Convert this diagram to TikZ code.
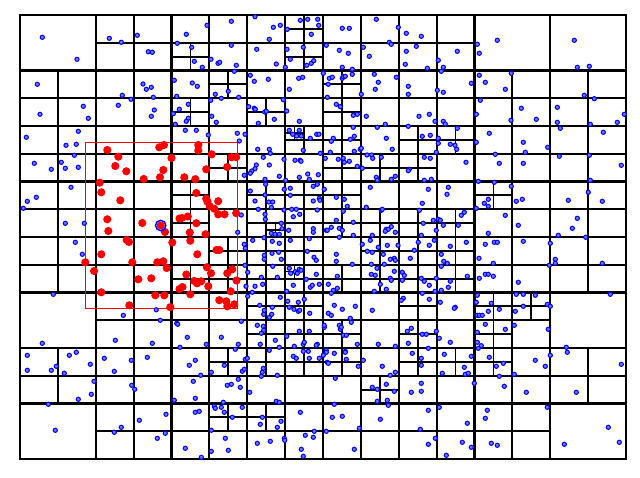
\documentclass[tikz,border=0pt]{standalone}
\usepackage{tikz}
\tikzset{
  bpt/.style={draw=blue, fill=blue!55, line width=1pt},
  rpt/.style={fill=red},
  qline/.style={black, line cap=rect}
}
\newif\ifqint
% leaves at level 3
\def\leafthree{0/0,0/5,0/7,6/0,7/0,7/5,7/7}
% internal nodes at levels >= 4
\def\intlist{4/7/0,4/4/1,4/7/1,4/5/2,4/4/3,4/6/3,4/7/4,4/5/5,4/4/6,4/6/6,4/7/6,4/4/7,4/6/7,4/7/7,4/5/8,4/6/8,4/7/8,4/4/9,4/5/9,4/6/9,4/7/9,4/6/10,4/7/10,4/6/11,4/7/11,4/5/12,4/6/12,4/7/12,4/5/14,4/6/14,4/8/2,4/8/3,4/8/4,4/10/4,4/11/4,4/8/5,4/9/5,4/10/5,4/8/6,4/8/7,4/9/7,4/10/7,4/11/7,4/9/8,4/10/8,4/11/8,4/8/9,4/9/9,4/10/9,4/11/9,4/10/10,4/8/11,4/10/11,4/8/12,4/10/12,4/11/12,4/9/13,4/12/6,4/12/10,4/12/11,4/13/10,4/12/12,5/14/8,5/13/15,5/14/18}
% points inside the query range (drawn red)
\def\redpts{107.3/150,118.3/156.7,115.3/166,126.3/171.3,159.3/147.3,164/145,198.3/145,198.3/150.5,171.5/158,211.7/154.3,231.5/157.2,236.2/157.2,227.2/167,206.2/169.3,163.3/170,160/177.3,143.7/179,184.3/177.3,195.3/179.2,99.7/182.7,101.3/192.3,120.3/200.3,196.3/193,206.2/198.7,207.5/201.8,218.2/201.2,209.8/206.4,214.3/208.7,218.2/214.3,224.5/214.3,236.2/213.2,107.3/219.3,142.3/223,160.7/225.5,165/232,179.5/218.5,182/218,187.8/216.5,196.3/223.2,108.3/231,189.8/232.5,205.5/234.2,126.7/240,129/242,172.3/242.5,216.5/250,219.3/250,197.3/254.3,101.3/254.3,85.3/262.3,132.3/262.3,157.3/262.3,163.3/261.3,166.7/268,206.9/267.2,211/273.3,232.3/269.3,94/271,227.3/273.3,186.3/274.5,138.3/279.3,151.3/278.3,194.3/281,197/283.3,201.2/281.3,208.3/286.3,236.5/280.5,179.5/289,182.5/287,101.3/292.3,155.3/295.3,164.3/295.3,190.3/294.3,230.7/291.3,219.3/300.2,226.3/301.3,234.3/304.3,227.3/306.3,129.3/305.3,170.3/307.2,190.3/240.7}
% points outside the query range (drawn blue)
\def\bluel{42.3/37.3,77/59.3,109.3/38.3,121.3/42.3,137.3/35.3,148.3/51.7,152.3/52.3,37.3/84.3,122.3/95.3,131/99.3,143/84,146.3/89.3,151.3/87.3,153.3/97.3,40/114.3,83.3/106.3,88.3/118.3,118.3/105.3,154.3/110,151.3/116.3,26.3/137.3,78.3/131.3,66/145.3,76.3/144.3,74.3/155.3,34.3/163.3,61.3/162.3,65.3/168.3,78.3/167.3,51.3/169.3,71/187.3,27.3/201.3,36.3/197.3,23.3/208.3,65.3/223.3,84.3/223.3,75.3/242.3,82.3/254.3,53.3/294.3,42.3/343.3,123.3/315.3,115.3/340.3,152.3/343.3,156.3/309.8,160.3/320.3,27.3/355.3,27.3/370.3,69.3/355.3,76.3/352.3,51.3/370.3,56.3/366.3,64.3/373.3,90.3/364.3,104.3/358.3,114.3/371.3,131.3/360.3,147.3/357.3,94/381.3,91.3/394.3,78.3/399.3,48.3/404.3,55.3/430.3,131.7/385.3,134.7/389.3,139.3/420.3,121.3/427.3,114.3/432.3,157.3/438.3,166/414.3,165.3/433.3}
\def\bluea{207/25.3,231.3/21.3,186.3/34.3,177.3/43.3,191.7/47.3,231.3/45.3,194.3/61.3,202.3/67.3,211/59.3,218/63.3,219.7/62.3,236.3/65.3,255/16.7,273.3/27.3,280.3/25.3,269.3/39.3,256.7/49.3,276.3/64,300.3/20.3,307.7/19.3,317.7/19.3,318.7/25.3,287.3/29.3,311.3/34.3,303.3/47.3,287/49.3,290.3/59.3,285.3/67.3,306.7/65.3,311.3/63.3,313.7/60.7,326.3/45.3,174.3/80.3,192.3/83,197.3/86.3,176.7/96.3,234.3/71.3,250.3/75.3,254.3/81.3,268.3/79.3,298.7/78.3,302.7/77.3,289.3/89.3,215.3/94.3,228.3/91.3,221.3/98.3,238.7/97.3,210.7/100.3,283.3/99.7,179.3/109.3,188.3/104.3,173.3/113.7,188.3/118.3,186.3/121.3,175.3/124.3,211.7/116.3,216.3/122.3,248.7/106.7,254.3/108.3,255.3/109.3,264.7/112,266.3/111.3,274.3/119.3,258.3/123.3,286.7/111,299.3/121.3,
376.3/19.3,342.3/28.3,349.3/28.3,398.3/27.3,406.3/33.3,421.3/36.3,339.3/50.3,348.3/53.3,363.3/47.3,369.3/56.3,389.3/42.3,391.3/44.3,406.3/51.3,416.3/46.3,457.3/51.3,405.3/64.3,427.3/68.3,438.3/60.3,443.3/67.3,342.3/67.3,352.3/69.3,323.3/73.3,329.3/78.3,332.3/77.3,342.3/78.3,343.3/76.7,345.3/76.3,352.3/74.3,328.3/84.3,374.3/74.3,378.3/82.3,375.3/89.3,396.3/77.3,408.3/86.3,408.3/94.3,441.3/71.3,437.3/90.3,443.3/92.3,471.3/83.3,327.3/97.3,336.3/104.3,340.3/106.7,353.3/115.3,357.3/114.3,366.3/116.3,361.3/94.3,419/116.3,429.3/114.3,435/121.3,443.3/121.3,445.3/124,385.3/124.3,408.3/126.3,353.3/127.3,377.3/127.3,457.3/128.3}
\def\blueb{185.3/130.3,196.3/130.3,208.3/135,237.3/133.3,245/134.3,239.3/141,289.3/130.3,292.7/134.3,296.7/136,299.3/130.3,301.3/136,310.3/138.3,316.7/134.3,319/134.3,257.7/149.3,263.3/157.3,269.3/149.3,270.3/153.3,269.3/165,284/159.3,295/160.3,300/160.3,301/161.3,303.3/150.3,320.3/153.3,256.3/165,255/168.7,251.7/171,250.3/173.3,244.3/175.3,279.3/176.3,299.3/177.3,307.7/174,309.3/179.3,318.3/174.7,265/179.3,265.7/184.3,250.3/191,255/201,265/195,268.7/202,272.7/202,271.3/207.3,258.3/209.3,265/214.3,265.3/219.3,285.7/180.3,284.3/189.3,290.3/188.3,290.3/195.3,313.3/186.3,317.3/184.3,313.3/201,319.3/198.3,320/200.3,284/210,291.7/209.3,296.3/209.3,293.3/216.7,299.7/214.3,317.3/210,241.3/215,237.7/232.3,271.3/233.3,275/234.3,279.3/234.3,281.3/223.3,282/228.7,288.7/230.3,290.3/240.3,264/237.7,252.7/240.3,313.3/228.7,313.3/232.3,309.3/238.7,326.3/230.3,
333.3/138.3,331.3/141.3,350.3/139.3,354.3/136.3,386.3/138.3,392.3/149.3,422.3/136.3,430.3/135.3,438.3/138.3,438.3/143.3,450.3/144.3,455/145.3,456.7/149.3,330.3/152.3,354.3/151.3,360.3/149.3,361.3/148.3,436.3/152.3,325.3/158.3,338.3/159.3,343.3/158.3,344.3/162.3,349.3/161.3,367/155,371.7/155,372.7/158.3,381.3/157.3,424.3/157.3,430.3/158.3,466/162.3,357.3/166.3,362.3/168.3,409.3/169.3,408.3/170.7,376.3/177.3,377.3/180.3,391.3/179.3,395.3/176.3,424.3/180.3,431.3/179.3,324.3/189.3,370.3/187.3,428.3/189.3,448.3/187.3,447/194.3,336.3/197.3,344.3/199.3,422.3/203.3,347.3/206.3,366.3/207.3,343.3/211.3,381.3/210.3,382.3/209.3,419.3/210.3,464.3/212.3,461.3/215.3,336.3/220.3,353.3/222.3,331.3/227.3,327.3/230.3,339.3/228.3,342.3/230.3,353.3/235.3,386.3/229.3,388.3/229.3,391.3/226.7,385.3/231.3,395.3/232.3,372.3/235.3,423.3/223.3,433.3/220.3,438.3/219.3,440.3/220.3,443.3/225.3,458.3/225.3,436.3/230.3,421.3/235.3}
\def\bluec{244.3/244.3,245.3/248.3,272.3/241.3,279.3/243.3,264.3/255.3,264.3/259.3,272/253.3,278.7/252.3,281.3/259.3,245/265.3,247.7/272.3,272.7/266.3,289.3/268.3,290.7/273.3,295.3/271.7,297.3/273.3,299.3/269.3,301/270.3,307.3/251.3,314/257.3,316.3/260.3,316.3/274.3,261.3/277.3,277.3/277.3,262.7/284.3,255/286.3,246/286.3,252.3/292.3,293.3/285.3,286.7/291.3,306.3/279.3,310.3/287.3,312.3/285.3,319.3/284.3,247.7/296.3,280.3/297.3,298.3/302.3,287.7/301.3,289.3/307.3,294/309.3,298.3/311.3,299.7/310.3,304.3/299.3,309.7/313.3,259.7/305.3,264.3/310.3,272.3/307.3,263.7/314.3,269.3/317.3,271.7/314.3,241.3/321.3,176.7/323.3,177.7/324.3,187.3/337.3,221.3/337.3,206.3/344.3,180/347.3,235.3/349.3,257.3/325.3,263.3/326.3,263.7/330.3,261.3/333.3,275.3/340.3,260.3/344.3,269.3/350.3,279.3/347.3,286.7/336.3,299.3/331.3,309.3/331.3,303.3/344.3,317.3/344.3,324.3/327.3,
339.3/237.3,336.3/254.3,336.3/261.3,352.3/264.3,362.3/244.3,370.3/240.3,378.3/247.3,387.3/245.3,398/245.3,367.3/251.3,372.3/252.3,383.3/254.3,390.3/259.3,394.3/258.3,395.3/260.3,384.3/264.3,371.3/264.3,410.3/258.3,414.3/250.3,418.3/242.3,429.3/245.3,434.3/240.3,450.3/246.3,466.3/242.3,441.3/254.3,443.7/261.3,447.3/263.3,441.3/266.3,377/268.3,371.3/274.3,375.3/275.3,394.3/271.3,402.3/272.3,404.3/275.3,337.3/276.3,328.3/284.3,337.3/288.3,333.3/290.3,331.3/293.3,380.3/284.3,374.3/291.3,386.3/289.3,390.3/278.3,391.3/280.3,402.3/280.3,421.3/278.3,424.3/281.3,429.3/285.3,436.3/278.3,450.3/281.3,448.3/287.3,441.3/290.3,467.3/276.3,422.3/293.3,435/291.3,403.3/298.3,401.3/300.3,429.3/299.3,440.3/302.3,455.3/307.3,454.3/308.3,334.3/305.3,342.3/309.3,355.3/306.3,328.3/313.3,331.3/315.3,372.3/310.3,350.3/318.3,351.3/322.3,324.3/325.3,339.3/325.3,340.3/329.3,341.3/327.3,343.3/335.3,346.3/335.3,357.3/344.3,378.3/344.3,407.3/331.3,411.3/328.3,422.3/334.3,426.3/334.3,436.3/331.3,439.3/338.3,450.3/342.3,408.3/343.3,395.3/346.3,326.3/350.3,345.3/351.3,428.3/348.3}
\def\blued{238.3/344.3,294.3/346.3,304.3/342.3,316.3/345.3,189.3/365.3,195.3/360.3,200.7/375.3,224.3/365.3,245.3/359.3,247.3/358.3,242.3/371.3,244.3/369.3,263.3/368.3,262.3/372.3,261.3/376.3,277.3/375.3,293.3/356.3,296.3/358.3,303.3/351.3,308.3/351.3,309.3/358.3,319.3/358.3,323.3/355.3,211.3/372.3,193.3/381.3,195.3/398.3,174.3/400.3,227.3/385.3,231.3/384.3,238.3/379.3,240.3/387.3,249.7/392.3,223.3/402.3,276.3/401.3,279.3/402.3,214.3/406.3,215.3/408.3,221.3/407.3,224.3/412.3,242.3/407.3,232.3/417.3,195.3/412.3,199.3/411.3,262.3/417.3,281/421.3,260.3/424.3,277.3/427.3,300.3/412.3,211.3/430.3,225.3/438.3,185.3/448.3,211.3/451.3,228.3/450.3,257.3/443.3,270.3/441.3,284.3/438.3,284.7/440.3,305.3/435.3,313.3/437.3,314.3/431.3,301.3/449.3,303.3/456.3,201.3/457.3,
326.3/352.3,334.3/353.3,345.3/352.3,346.3/359.3,327.3/362.3,328.3/363.3,358.3/366.3,363.3/360.3,382.3/366.3,390.3/375.3,395.3/372.3,412.3/353.3,421.3/358.3,421.3/365.3,444.3/354.3,442.3/373.3,464.3/367.3,465.3/374.3,468.3/373.3,471.3/356.3,335.3/378.3,372.3/387.3,377.3/389.3,386.3/384.3,394.3/391.3,377.3/401.3,387.3/400.3,388.3/405.3,411.3/392.3,421.3/383.3,421.3/391.3,474.3/383.3,334.3/404.3,332.3/417.3,342.3/416.3,359.3/428.3,326.3/431.3,380.3/419.3,428.3/410.3,439.3/407.3,467.3/423.3,420.3/429.3,435.3/438.3,428.3/444.3,354.3/449.3,462.3/442.3,471.3/447.3,446.3/455.3}
\def\bluer{497.3/40.3,574.3/40.3,577.3/67.3,589.3/66.3,477.3/44.3,479.3/53.3,479.3/75.3,485.3/82.3,505.3/89.3,511.3/73.3,480.3/100.3,476.3/114.3,521.3/108.3,536.3/119.3,511/120.3,584.3/95.3,594.3/98.7,557.3/107.3,557.3/122.3,590.3/124.3,617.3/122.3,624.3/114.3,489.3/133.3,476.3/142.3,523.3/142.3,525.3/152.3,495.3/154.3,499.3/163.3,523.3/163.3,547.7/147.3,560.3/128.3,603.3/132.3,559.3/156.3,589.3/155.3,621.3/165.3,478.3/181.3,494.3/182.3,511.3/186.3,488.3/199.3,484.3/203.3,488.3/206.3,476.3/208.3,516.3/201.3,522.3/199.3,505.3/215.3,518.3/225.3,488.3/233.3,485.3/244.3,494.3/242.3,497.3/242.3,523.3/241.3,550.3/243.3,568.3/200.3,602.3/201.3,588.3/192.3,590.3/180.3,577.3/218.3,572.3/228.3,558.3/235.3,585.7/237.3,
479/258.3,493.3/263.3,555.3/259.3,555.3/263.3,549.3/265.3,602.3/263.3,479.3/278.3,485.3/274.3,488.3/274.3,493.3/276.3,518.3/282.3,477.3/295.3,476.3/302.3,491.3/303.3,488.3/311.3,499.3/309.3,477.3/315.3,479.3/315.3,482.3/315.3,485.3/324.3,505.3/329.3,477.3/332.3,477.3/342.3,481.3/345.7,516.3/294.3,523.3/294.3,535.3/295.3,523.3/306.3,515.3/311.3,514.3/325.3,547.3/304.3,550.3/306.3,548.3/329.3,610.3/294.3,478.3/348.3,489.3/357.3,496.3/366.3,503.3/363.3,499.3/376.3,504.3/386.3,514.3/374.3,526.3/392.3,535.3/360.3,545.3/366.3,550.3/355.3,567.3/352.3,566.3/347.3,621.3/364.3,576.3/392.3,487.3/410.3,485.3/418.3,547.3/407.3,491.3/443.3,497.3/445.3,608.3/427.3,619.3/442.3,564.3/444.3}
\newcommand\qtest[3]{%
  \qintfalse
  \ifnum#1<3 \qinttrue\fi
  \ifnum#1=3 \ifcsname ql-#2-#3\endcsname\else\qinttrue\fi\fi
  \ifnum#1>3 \ifcsname qi-#1-#2-#3\endcsname\qinttrue\fi\fi}
\newcommand\qnode[3]{%
  \qtest{#1}{#2}{#3}%
  \ifqint
    \pgfmathsetmacro\qw{606/2^#1}%
    \pgfmathsetmacro\qh{444/2^#1}%
    \pgfmathsetmacro\qx{20+#2*\qw}%
    \pgfmathsetmacro\qy{15+#3*\qh}%
    \pgfmathsetmacro\qlw{max(2.8-0.25*#1,1.4)}%
    \draw[qline, line width=\qlw pt] (\qx+\qw/2,\qy) -- (\qx+\qw/2,\qy+\qh);
    \draw[qline, line width=\qlw pt] (\qx,\qy+\qh/2) -- (\qx+\qw,\qy+\qh/2);
    \pgfmathtruncatemacro\qn{#1+1}%
    \foreach \qa in {0,1}{\foreach \qb in {0,1}{%
      \pgfmathtruncatemacro\qci{2*#2+\qa}%
      \pgfmathtruncatemacro\qcj{2*#3+\qb}%
      \edef\qnext{\noexpand\qnode{\qn}{\qci}{\qcj}}\qnext}}%
  \fi}
\begin{document}
\begin{tikzpicture}[x=1pt,y=-1pt]
\useasboundingbox (0,0) rectangle (640,478);
\fill[white] (0,0) rectangle (640,478);
\foreach \a/\b in \leafthree {\expandafter\gdef\csname ql-\a-\b\endcsname{}}
\foreach \l/\a/\b in \intlist {\expandafter\gdef\csname qi-\l-\a-\b\endcsname{}}
% quadtree cells
\qnode{0}{0}{0}
\draw[qline, line width=2.6pt] (20,15) rectangle (626,459);
% query range
\draw[red, line width=1pt] (85.3,142.3) rectangle (237.3,309);
% points
\foreach \x/\y in \bluel {\filldraw[bpt] (\x,\y) circle (2.1);}
\foreach \x/\y in \bluea {\filldraw[bpt] (\x,\y) circle (2.1);}
\foreach \x/\y in \blueb {\filldraw[bpt] (\x,\y) circle (2.1);}
\foreach \x/\y in \bluec {\filldraw[bpt] (\x,\y) circle (2.1);}
\foreach \x/\y in \blued {\filldraw[bpt] (\x,\y) circle (2.1);}
\foreach \x/\y in \bluer {\filldraw[bpt] (\x,\y) circle (2.1);}
\foreach \x/\y in \redpts {\fill[rpt] (\x,\y) circle (4.1);}
% query point
\draw[blue, line width=1.4pt] (160.7,225.5) circle (5.2);
\end{tikzpicture}
\end{document}
